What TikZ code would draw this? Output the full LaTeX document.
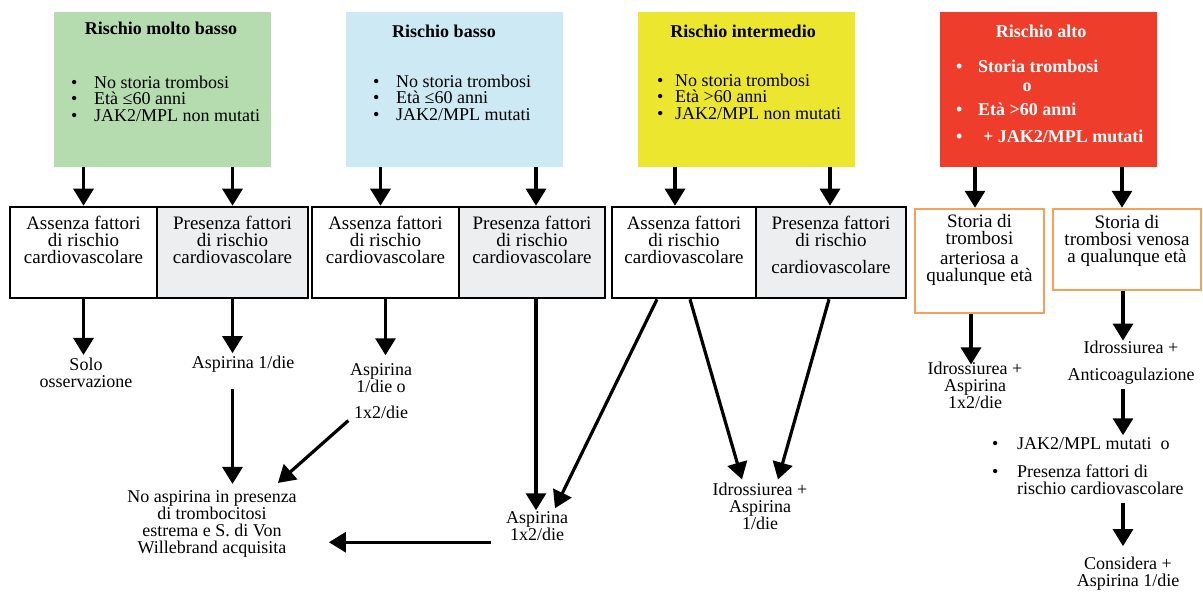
\documentclass[tikz,border=0pt]{standalone}
\usepackage{fontspec}
\setmainfont{Liberation Serif}
\usetikzlibrary{arrows.meta}
\definecolor{riskvlow}{HTML}{B4DCAE}
\definecolor{risklow}{HTML}{CDE9F4}
\definecolor{riskmid}{HTML}{ECE72E}
\definecolor{riskhigh}{HTML}{EE3E2B}
\definecolor{cellgray}{HTML}{EDEEF0}
\definecolor{orangeedge}{HTML}{F7A05A}
\newcommand\bitem[1]{\makebox[#1][l]{•}}
\begin{document}
\begin{tikzpicture}[x=1pt,y=-1pt,
  arr/.style={line width=3.2pt,-{Triangle[width=20pt,length=17pt]}},
  riskbox/.style={minimum width=217pt,minimum height=155pt,inner sep=0pt},
  title/.style={font=\fontsize{18}{18}\selectfont\bfseries,inner sep=0pt},
  blist/.style={font=\fontsize{18}{16.3}\selectfont,align=left,inner sep=0pt,anchor=west},
  rtext/.style={font=\fontsize{18}{18}\selectfont\bfseries,text=white,inner sep=0pt},
  cell/.style={draw,line width=2.6pt,minimum height=91pt,inner sep=0pt},
  celltxt/.style={font=\fontsize{19}{17}\selectfont,align=center,inner sep=0pt},
  obox/.style={draw=orangeedge,line width=2.5pt,inner sep=0pt,fill=white},
  outtxt/.style={font=\fontsize{18}{17}\selectfont,align=center,inner sep=0pt}]
\useasboundingbox (0,0) rectangle (1203,592);
\fill[white] (0,0) rectangle (1203,592);

% risk categories
\node[riskbox,fill=riskvlow] (green) at (162,89.5) {};
\node[riskbox,fill=risklow] (blue) at (454.5,89.5) {};
\node[riskbox,fill=riskmid] (yellow) at (746.5,89.5) {};
\node[riskbox,fill=riskhigh] (red) at (1048.5,89.5) {};

\node[title] (t1) at (161,28) {Rischio molto basso};
\node[title] (t2) at (444,31) {Rischio basso};
\node[title] (t3) at (743,31) {Rischio intermedio};
\node[title,text=white] (t4) at (1041,31) {Rischio alto};

\node[blist] (l1) at (71,98.7) {\bitem{23pt}No storia trombosi\\\bitem{23pt}Età ≤60 anni\\\bitem{23pt}JAK2/MPL non mutati};
\node[blist] (l2) at (373,97.7) {\bitem{23pt}No storia trombosi\\\bitem{23pt}Età ≤60 anni\\\bitem{23pt}JAK2/MPL mutati};
\node[blist] (l3) at (657,96.7) {\bitem{18pt}No storia trombosi\\\bitem{18pt}Età >60 anni\\\bitem{18pt}JAK2/MPL non mutati};

\node[rtext,anchor=west] (r1) at (956,66) {\bitem{22pt}Storia trombosi};
\node[rtext] (r2) at (1027,87) {o};
\node[rtext,anchor=west] (r3) at (956,109) {\bitem{22pt}Età >60 anni};
\node[rtext,anchor=west] (r4) at (956,136) {\bitem{27pt}+ JAK2/MPL mutati};

% cardiovascular risk factor cells
\node[cell,fill=white,minimum width=147pt] (g1a) at (83.5,252.5) {};
\node[cell,fill=cellgray,minimum width=151pt] (g1b) at (232.5,252.5) {};
\node[cell,fill=white,minimum width=147pt] (g2a) at (385.5,252.5) {};
\node[cell,fill=cellgray,minimum width=146pt] (g2b) at (532,252.5) {};
\node[cell,fill=white,minimum width=144pt] (g3a) at (684,252.5) {};
\node[cell,fill=cellgray,minimum width=150pt] (g3b) at (831,252.5) {};
\node[obox,minimum width=129pt,minimum height=104pt] (o1) at (979.5,261) {};
\node[obox,minimum width=148pt,minimum height=81pt] (o2) at (1127,249.5) {};

\node[celltxt] (g1at) at (83.5,240) {Assenza fattori\\di rischio\\cardiovascolare};
\node[celltxt] (g1bt) at (232.5,240) {Presenza fattori\\di rischio\\cardiovascolare};
\node[celltxt] (g2at) at (385.5,240) {Assenza fattori\\di rischio\\cardiovascolare};
\node[celltxt] (g2bt) at (532,240) {Presenza fattori\\di rischio\\cardiovascolare};
\node[celltxt] (g3at) at (684,240) {Assenza fattori\\di rischio\\cardiovascolare};
\node[celltxt] (g3bt) at (831,245) {Presenza fattori\\di rischio\\[10pt]cardiovascolare};
\node[celltxt] (o1t) at (979.5,250) {Storia di\\trombosi\\[3pt]arteriosa a\\qualunque età};
\node[celltxt] (o2t) at (1127,240.5) {Storia di\\trombosi venosa\\a qualunque età};

% outcomes
\node[outtxt] (solo) at (86,372.5) {Solo\\osservazione};
\node[outtxt] (asp1) at (243,364) {Aspirina 1/die};
\node[outtxt] (asp2) at (381,391.5) {Aspirina\\1/die o\\[9pt]1x2/die};
\node[outtxt] (noasp) at (212,524) {No aspirina in presenza\\di trombocitosi\\estrema e S. di Von\\Willebrand acquisita};
\node[outtxt] (asp3) at (537,526.5) {Aspirina\\1x2/die};
\node[outtxt] (idro1) at (760,506.5) {Idrossiurea +\\Aspirina\\1/die};
\node[outtxt] (idro2) at (975,385.5) {Idrossiurea +\\Aspirina\\1x2/die};
\node[outtxt] (idro3) at (1131,362.5) {Idrossiurea +\\[10pt]Anticoagulazione};
\node[blist,font=\fontsize{18}{17}\selectfont] (cond) at (992,466.5) {\bitem{25pt}JAK2/MPL mutati~~o\\[11pt]\bitem{25pt}Presenza fattori di\\\hspace*{25pt}rischio cardiovascolare};
\node[outtxt] (cons) at (1128,573.5) {Considera +\\Aspirina 1/die};

% arrows from the risk categories
\coordinate (a1) at (g1a.north);
\coordinate (a2) at (g1b.north);
\coordinate (a3) at ([xshift=-5pt]g2a.north);
\coordinate (a4) at ([xshift=4pt]g2b.north);
\coordinate (a5) at ([xshift=-9pt]g3a.north);
\coordinate (a6) at ([xshift=-1pt]g3b.north);
\coordinate (a7) at ([xshift=-4.5pt]o1.north);
\coordinate (a8) at ([xshift=-5pt]o2.north);
\draw[arr] (green.south -| a1) -- (a1);
\draw[arr] (green.south -| a2) -- (a2);
\draw[arr] (blue.south -| a3) -- (a3);
\draw[arr] (blue.south -| a4) -- (a4);
\draw[arr] (yellow.south -| a5) -- (a5);
\draw[arr] (yellow.south -| a6) -- (a6);
\draw[arr] (red.south -| a7) -- (a7);
\draw[arr] (red.south -| a8) -- (a8);

% arrows to the outcomes
\draw[arr,shorten >=2.5pt] (g1a.south) -- (g1a.south |- solo.north);
\draw[arr,shorten >=2.5pt] (g1b.south) -- (g1b.south |- asp1.north);
\draw[arr,shorten <=17pt,shorten >=6.5pt] (g1b.south |- asp1.south) -- (g1b.south |- noasp.north);
\draw[arr,shorten >=8.5pt] (g2a.south) -- (g2a.south |- asp2.north);
\coordinate (n1) at ([xshift=-19pt,yshift=7.5pt]noasp.north east);
\draw[arr,shorten <=2pt] (asp2.south west) -- (n1);
\coordinate (c6) at ([xshift=4pt]g2b.south);
\draw[arr,shorten >=1.5pt] (c6) -- (c6 |- asp3.north);
\coordinate (c7) at ([xshift=-27pt]g3a.south);
\coordinate (t7) at ([xshift=18pt,yshift=3.5pt]asp3.north);
\draw[arr] (c7) -- (t7);
\coordinate (c8) at ([xshift=6pt]g3a.south);
\coordinate (t8) at ([xshift=-18pt,yshift=3.5pt]idro1.north);
\draw[arr] (c8) -- (t8);
\coordinate (c9) at ([xshift=-2pt]g3b.south);
\coordinate (t9) at ([xshift=18pt,yshift=3.5pt]idro1.north);
\draw[arr] (c9) -- (t9);
\coordinate (c10) at ([xshift=-8.5pt]o1.south);
\draw[arr,shorten >=-2.5pt] (c10) -- (c10 |- idro2.north);
\coordinate (c11) at ([xshift=-4pt]o2.south);
\draw[arr] (c11) -- (c11 |- idro3.north);
\draw[arr,shorten <=5pt,shorten >=2.5pt] (c11 |- idro3.south) -- (c11 |- cond.north);
\draw[arr,shorten <=8pt,shorten >=10.5pt] (c11 |- cond.south) -- (c11 |- cons.north);
\coordinate (c14) at ([xshift=-15pt,yshift=-1pt]asp3.south west);
\draw[arr,shorten >=32pt] (c14) -- (c14 -| noasp.east);
\end{tikzpicture}
\end{document}
